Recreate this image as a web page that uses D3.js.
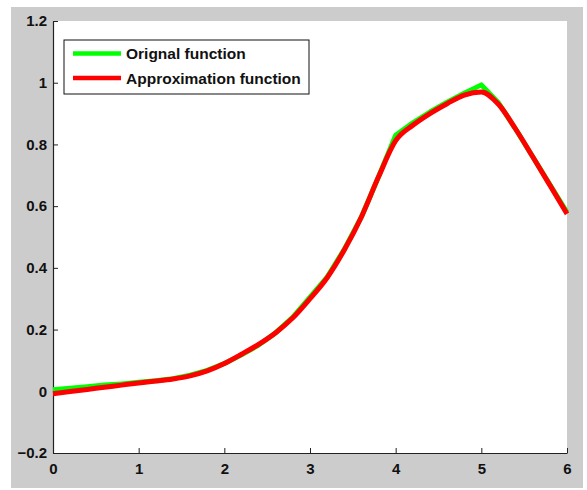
<!DOCTYPE html>
<html>
<head>
<meta charset="utf-8">
<script src="https://cdn.jsdelivr.net/npm/d3@7"></script>
<style>
  body { margin: 0; background: #fff; }
  text { font-family: "Liberation Sans", Arial, sans-serif; font-weight: bold; }
</style>
</head>
<body>
<script>
// sample positions (step 0.2)
const xs = [0, 0.2, 0.4, 0.6, 0.8, 1.0, 1.2, 1.4, 1.6, 1.8, 2.0, 2.2, 2.4, 2.6, 2.8, 3.0,
            3.2, 3.4, 3.6, 3.8, 4.0, 4.2, 4.4, 4.6, 4.8, 5.0, 5.2, 5.4, 5.6, 5.8, 6.0];

const original = [0.005, 0.010, 0.015, 0.020, 0.024, 0.029, 0.034, 0.041, 0.052, 0.068,
                  0.090, 0.118, 0.150, 0.190, 0.240, 0.305, 0.370, 0.460, 0.565, 0.695,
                  0.830, 0.870, 0.905, 0.937, 0.966, 0.993, 0.935, 0.850, 0.760, 0.670, 0.580];

const approx = [-0.008, -0.001, 0.006, 0.013, 0.020, 0.027, 0.033, 0.040, 0.050, 0.066,
                0.090, 0.120, 0.152, 0.190, 0.238, 0.300, 0.368, 0.458, 0.565, 0.695,
                0.812, 0.862, 0.900, 0.932, 0.960, 0.970, 0.930, 0.850, 0.760, 0.668, 0.575];

const xTicks = [0, 1, 2, 3, 4, 5, 6];
const yTicks = [-0.2, 0, 0.2, 0.4, 0.6, 0.8, 1, 1.2];
const legendLabels = ['Orignal function', 'Approximation function'];
const colors = ['#00ff00', '#ff0000'];

const W = 587, H = 490;
const svg = d3.select('body').append('svg')
  .attr('width', W)
  .attr('height', H);

// figure background
svg.append('rect')
  .attr('x', 11).attr('y', 7)
  .attr('width', 572).attr('height', 481)
  .attr('fill', '#cccccc');

const x = d3.scaleLinear().domain([0, 6]).range([53, 567]);
const y = d3.scaleLinear().domain([-0.2, 1.2]).range([453, 21]);

svg.append('rect')
  .attr('x', x(0)).attr('y', y(1.2))
  .attr('width', x(6) - x(0)).attr('height', y(-0.2) - y(1.2))
  .attr('fill', '#fff');

const xAxis = svg.append('g')
  .attr('transform', `translate(0,${y(-0.2)})`)
  .call(d3.axisBottom(x).tickValues(xTicks).tickSizeInner(-5).tickSizeOuter(0).tickPadding(10)
    .tickFormat(d3.format('d')));

const yAxis = svg.append('g')
  .attr('transform', `translate(${x(0)},0)`)
  .call(d3.axisLeft(y).tickValues(yTicks).tickSizeInner(-5).tickSizeOuter(0).tickPadding(6)
    .tickFormat((d) => d3.format('~g')(+d.toFixed(1))));

[xAxis, yAxis].forEach((g) => {
  g.select('.domain').attr('stroke', '#222').attr('stroke-width', 1.2);
  g.selectAll('.tick line').attr('stroke', '#222');
  g.selectAll('.tick text').attr('fill', '#111').style('font-size', '15px');
});

const pts = (vals) => xs.map((v, i) => [v, vals[i]]);

svg.append('path')
  .datum(pts(original))
  .attr('fill', 'none')
  .attr('stroke', colors[0])
  .attr('stroke-width', 5)
  .attr('stroke-linejoin', 'round')
  .attr('d', d3.line().x((d) => x(d[0])).y((d) => y(d[1])));

svg.append('path')
  .datum(pts(approx))
  .attr('fill', 'none')
  .attr('stroke', colors[1])
  .attr('stroke-width', 5)
  .attr('stroke-linejoin', 'round')
  .attr('d', d3.line().curve(d3.curveMonotoneX).x((d) => x(d[0])).y((d) => y(d[1])));

// legend
const legend = svg.append('g').attr('transform', 'translate(64,40)');
legend.append('rect')
  .attr('width', 245).attr('height', 54)
  .attr('fill', '#fff')
  .attr('stroke', '#111')
  .attr('stroke-width', 1);

legendLabels.forEach((label, i) => {
  const cy = 13.5 + i * 24.5;
  legend.append('line')
    .attr('x1', 9).attr('x2', 57)
    .attr('y1', cy).attr('y2', cy)
    .attr('stroke', colors[i])
    .attr('stroke-width', 4.5);
  legend.append('text')
    .attr('x', 62).attr('y', cy + 5.5)
    .attr('fill', '#111')
    .style('font-size', '15.5px')
    .text(label);
});
</script>
</body>
</html>
